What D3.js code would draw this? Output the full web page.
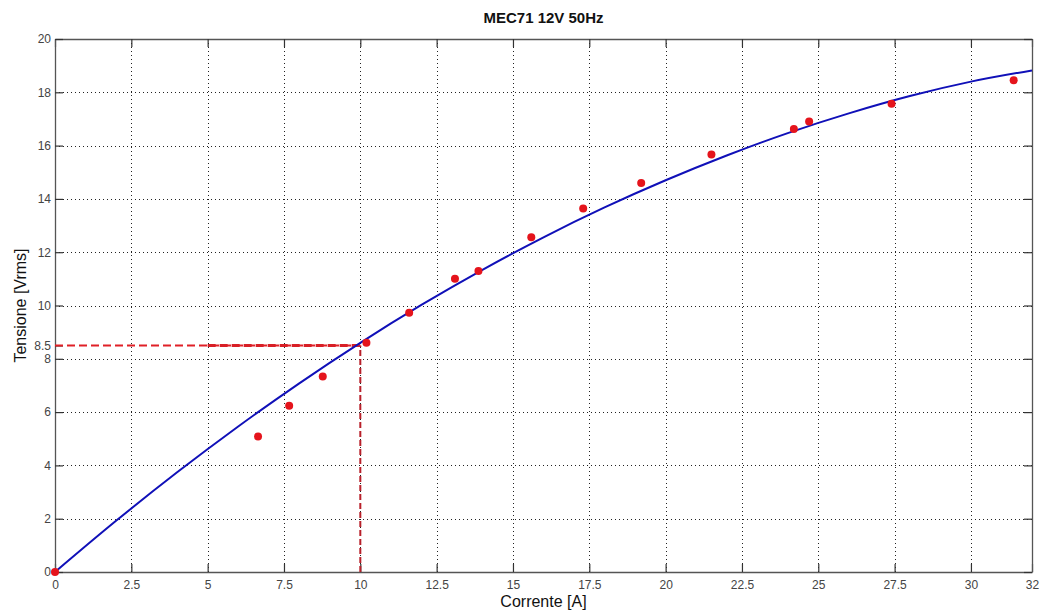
<!DOCTYPE html>
<html>
<head>
<meta charset="utf-8">
<script src="https://cdnjs.cloudflare.com/ajax/libs/d3/7.8.5/d3.min.js"></script>
<style>
  body { margin: 0; background: #fff; }
  svg { display: block; font-family: "Liberation Sans", Arial, sans-serif; }
</style>
</head>
<body>
<div id="chart"><svg></svg></div>
<script>
/**
 * Data
 */
var measuredCurrent = [0, 6.65, 7.67, 8.77, 10.2, 11.6, 13.1, 13.87, 15.6, 17.3, 19.2, 21.5, 24.2, 24.7, 27.4, 31.4];
var measuredVoltage = [0, 5.08, 6.24, 7.34, 8.6, 9.73, 11.0, 11.29, 12.56, 13.64, 14.6, 15.67, 16.62, 16.9, 17.57, 18.45];

var fitCurrent = [0, 2, 4, 6, 8, 10, 12, 14, 16, 18, 20, 22, 24, 26, 28, 30, 32];
var fitVoltage = [0, 1.92, 3.74, 5.46, 7.08, 8.6, 10.02, 11.34, 12.56, 13.68, 14.7, 15.63, 16.47, 17.21, 17.86, 18.4, 18.82];

var xTicks = [0, 2.5, 5, 7.5, 10, 12.5, 15, 17.5, 20, 22.5, 25, 27.5, 30, 32];
var yTicks = [0, 2, 4, 6, 8, 8.5, 10, 12, 14, 16, 18, 20];
var yGrid = [2, 4, 6, 8, 10, 12, 14, 16, 18];
var xGrid = [2.5, 5, 7.5, 10, 12.5, 15, 17.5, 20, 22.5, 25, 27.5, 30];

var markCurrent = 10;
var markVoltage = 8.5;

/**
 * Constructor
 */
function CurveView(svgid, width, height){
    this.svgId = svgid;
    this.svgWidth  = width;
    this.svgHeight = height;
    this.margin = {left: 55, right: 11, top: 39, bottom: 40};
}

CurveView.prototype.init = function(){
    this.svg = d3.select(this.svgId).select('svg')
        .attr('width', this.svgWidth)
        .attr('height', this.svgHeight);

    this.x = d3.scaleLinear().domain([0, 32])
        .range([this.margin.left, this.svgWidth - this.margin.right]);
    this.y = d3.scaleLinear().domain([0, 20])
        .range([this.svgHeight - this.margin.bottom, this.margin.top]);
};

CurveView.prototype.update = function(){
    var x = this.x, y = this.y, svg = this.svg;
    var x0 = x.range()[0], x1 = x.range()[1];
    var y0 = y.range()[0], y1 = y.range()[1];

    // dotted grid
    var grid = svg.append('g').attr('stroke', '#222').attr('stroke-width', 1)
        .attr('stroke-dasharray', '1,3');
    grid.selectAll('line.gx').data(xGrid).enter().append('line')
        .attr('x1', function (d) { return Math.round(x(d)) + 0.5; })
        .attr('x2', function (d) { return Math.round(x(d)) + 0.5; })
        .attr('y1', y0).attr('y2', y1);
    grid.selectAll('line.gy').data(yGrid).enter().append('line')
        .attr('y1', function (d) { return Math.round(y(d)) + 0.5; })
        .attr('y2', function (d) { return Math.round(y(d)) + 0.5; })
        .attr('x1', x0).attr('x2', x1);

    // axes, ticks pointing inwards
    var bottom = svg.append('g').attr('transform', 'translate(0,' + y0 + ')')
        .call(d3.axisBottom(x).tickValues(xTicks).tickSizeInner(-8).tickSizeOuter(0).tickPadding(12)
            .tickFormat(function (d) { return d; }));
    var top = svg.append('g').attr('transform', 'translate(0,' + y1 + ')')
        .call(d3.axisTop(x).tickValues(xTicks).tickSizeInner(-8).tickSizeOuter(0).tickFormat(''));
    var left = svg.append('g').attr('transform', 'translate(' + x0 + ',0)')
        .call(d3.axisLeft(y).tickValues(yTicks).tickSizeInner(-8).tickSizeOuter(0).tickPadding(4)
            .tickFormat(function (d) { return d; }));
    var right = svg.append('g').attr('transform', 'translate(' + x1 + ',0)')
        .call(d3.axisRight(y).tickValues(yTicks.filter(function (d) { return d !== 8.5; }))
            .tickSizeInner(-8).tickSizeOuter(0).tickFormat(''));

    [bottom, top, left, right].forEach(function (g) {
        g.select('.domain').attr('stroke', '#555').attr('stroke-width', 1.3);
        g.selectAll('.tick line').attr('stroke', '#333').attr('stroke-width', 1.2);
        g.selectAll('.tick text').attr('fill', '#444').attr('font-size', 12);
    });
    bottom.selectAll('.tick text').attr('dy', '0.45em');

    // marker lines at the working point
    svg.append('line')
        .attr('x1', x(0)).attr('x2', x(markCurrent))
        .attr('y1', y(markVoltage)).attr('y2', y(markVoltage))
        .attr('stroke', '#e02027').attr('stroke-width', 2)
        .attr('stroke-dasharray', '8,4');
    svg.append('line')
        .attr('x1', x(5)).attr('x2', x(markCurrent))
        .attr('y1', y(markVoltage)).attr('y2', y(markVoltage))
        .attr('stroke', '#d81f26').attr('stroke-width', 3)
        .attr('stroke-dasharray', '8,4');
    svg.append('line')
        .attr('x1', x(markCurrent)).attr('x2', x(markCurrent))
        .attr('y1', y(0)).attr('y2', y(markVoltage))
        .attr('stroke', '#b8202a').attr('stroke-width', 2)
        .attr('stroke-dasharray', '6,3');

    // fitted curve
    var fit = fitCurrent.map(function (d, i) { return [d, fitVoltage[i]]; });
    svg.append('path').datum(fit)
        .attr('fill', 'none').attr('stroke', '#1010b8').attr('stroke-width', 2)
        .attr('d', d3.line()
            .x(function (d) { return x(d[0]); })
            .y(function (d) { return y(d[1]); })
            .curve(d3.curveMonotoneX));

    // measured points
    svg.selectAll('circle').data(measuredCurrent).enter()
        .append('circle')
        .attr('cx', function (d) { return x(d); })
        .attr('cy', function (d, i) { return y(measuredVoltage[i]); })
        .attr('r', 4)
        .attr('fill', '#e5141c');

    // texts
    svg.append('text')
        .attr('x', (x0 + x1) / 2).attr('y', 23)
        .attr('text-anchor', 'middle').attr('font-size', 15).attr('font-weight', 'bold')
        .attr('fill', '#111')
        .text('MEC71 12V 50Hz');
    svg.append('text')
        .attr('x', (x0 + x1) / 2).attr('y', 607)
        .attr('text-anchor', 'middle').attr('font-size', 16).attr('fill', '#111')
        .text('Corrente [A]');
    svg.append('text')
        .attr('transform', 'translate(26,' + (y0 + y1) / 2 + ') rotate(-90)')
        .attr('text-anchor', 'middle').attr('font-size', 16).attr('fill', '#111')
        .text('Tensione [Vrms]');
};

var view = new CurveView('#chart', 1043, 612);
view.init();
view.update();
</script>
</body>
</html>
